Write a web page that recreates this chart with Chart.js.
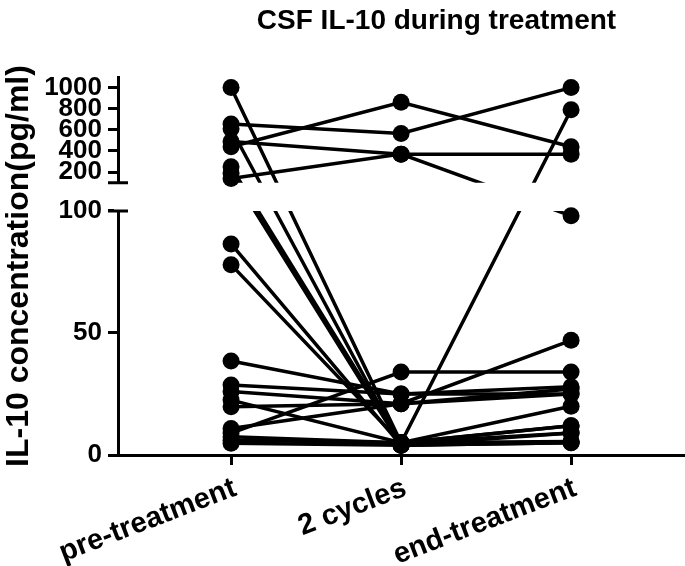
<!DOCTYPE html>
<html>
<head>
<meta charset="utf-8">
<script src="https://cdn.jsdelivr.net/npm/chart.js@4/dist/chart.umd.min.js"></script>
<style>
  html, body { margin: 0; padding: 0; background: #fff; }
  #wrap { width: 685px; height: 566px; }
</style>
</head>
<body>
<div id="wrap"><canvas id="c" width="685" height="566"></canvas></div>
<script>
// ---- data ----
const categories = ['pre-treatment', '2 cycles', 'end-treatment'];
const preTreatment = [1000, 655, 610, 490, 440, 250, 190, 140, 86.5, 78, 38.5, 28.7, 26, 22.5, 19.8, 10.9, 9, 7.5, 6, 4.8];
const twoCycles    = [5, 565, 4, 370, 860, 5, 4, 370, 4, 5, 25, 25, 21, 5, 21, 21, 34, 5, 5, 4];
const endTreatment = [790, 1000, 9, 370, 440, 12, 5, 98, 5, 9, 28, 25, 27, 20, 25, 47, 34, 5.5, 12, 5.5];
const lowerTicks = [0, 50, 100];
const upperTicks = [200, 400, 600, 800, 1000];
const chartTitle = 'CSF IL-10 during treatment';
const yTitle = 'IL-10 concentration(pg/ml)';

// ---- broken axis: lower segment 0..100, upper segment 100..1100 ----
const LOWER_MAX = 100, UPPER_MIN = 100, UPPER_MAX = 1100;
const GAP = 11.6;          // blank band between the two segments (lower-segment units)
const UPPER_SPAN = 43.3;   // height of upper segment (lower-segment units)
function virt(v) {
  if (v <= LOWER_MAX) return v;
  return LOWER_MAX + GAP + (v - UPPER_MIN) / (UPPER_MAX - UPPER_MIN) * UPPER_SPAN;
}
const Y_MAX = LOWER_MAX + GAP + UPPER_SPAN;
const yTickValues = lowerTicks.concat(upperTicks);

const FONT = "'Liberation Sans', Arial, Helvetica, sans-serif";

// ---- datasets: one line + one set of markers per subject ----
const datasets = [];
preTreatment.forEach((p, i) => {
  const pts = [p, twoCycles[i], endTreatment[i]].map((v, k) => ({ x: k, y: virt(v) }));
  datasets.push({ data: pts, isLine: true, showLine: true, borderColor: '#000', borderWidth: 3.5,
    pointRadius: 0, pointHoverRadius: 0, fill: false, tension: 0, order: 2 });
});
preTreatment.forEach((p, i) => {
  const pts = [p, twoCycles[i], endTreatment[i]].map((v, k) => ({ x: k, y: virt(v) }));
  datasets.push({ data: pts, showLine: false, pointRadius: 8.5, pointHoverRadius: 8.5,
    pointBackgroundColor: '#000', pointBorderWidth: 0, borderColor: '#000', order: 1 });
});

function gapPixels(chart) {
  const y = chart.scales.y;
  return { top: y.getPixelForValue(LOWER_MAX + GAP), bottom: y.getPixelForValue(LOWER_MAX) };
}

const brokenAxisPlugin = {
  id: 'brokenAxis',
  beforeDatasetsDraw(chart) {
    const ctx = chart.ctx, a = chart.chartArea, g = gapPixels(chart);
    ctx.save();
    ctx.fillStyle = '#fff';
    ctx.fillRect(a.left - 4, g.top, 8, g.bottom - g.top);
    ctx.strokeStyle = '#000';
    ctx.lineWidth = 3;
    ctx.beginPath();
    ctx.moveTo(a.left - 10, g.top); ctx.lineTo(a.left + 10, g.top);
    ctx.moveTo(a.left - 10, g.bottom); ctx.lineTo(a.left + 10, g.bottom);
    ctx.stroke();
    ctx.restore();
  },
  beforeDatasetDraw(chart, args) {
    const ds = chart.data.datasets[args.index];
    if (!ds.isLine) return;
    const ctx = chart.ctx, g = gapPixels(chart);
    ctx.save();
    ctx.beginPath();
    ctx.rect(0, 0, chart.width, g.top);
    ctx.rect(0, g.bottom, chart.width, chart.height - g.bottom);
    ctx.clip();
  },
  afterDatasetDraw(chart, args) {
    const ds = chart.data.datasets[args.index];
    if (!ds.isLine) return;
    chart.ctx.restore();
  },
  afterDraw(chart) {
    const ctx = chart.ctx, a = chart.chartArea;
    ctx.save();
    ctx.fillStyle = '#000';
    ctx.font = 'bold 28px ' + FONT;
    ctx.textAlign = 'center';
    ctx.textBaseline = 'alphabetic';
    ctx.fillText(chartTitle, (a.left + a.right) / 2 + 35, 29);
    ctx.restore();
  }
};

new Chart(document.getElementById('c'), {
  type: 'line',
  data: { datasets },
  options: {
    responsive: false, animation: false, devicePixelRatio: 1,
    layout: { autoPadding: false, padding: { top: 77, right: 0, bottom: 0, left: 0 } },
    plugins: { legend: { display: false }, tooltip: { enabled: false }, title: { display: false } },
    events: [],
    scales: {
      x: {
        type: 'linear', min: -0.665, max: 2.67,
        afterBuildTicks(scale) { scale.ticks = categories.map((c, i) => ({ value: i })); },
        afterFit(scale) { scale.height = 111; scale.paddingLeft = 0; scale.paddingRight = 0; },
        ticks: { autoSkip: false, minRotation: 21, maxRotation: 21, padding: 6, labelOffset: 4,
          color: '#000', font: { family: FONT, size: 29, weight: 'bold' }, callback: (v) => categories[v] },
        grid: { drawOnChartArea: false, drawTicks: true, tickLength: 10, tickWidth: 3, tickColor: '#000' },
        border: { display: true, color: '#000', width: 3 }
      },
      y: {
        type: 'linear', min: 0, max: Y_MAX,
        afterBuildTicks(scale) { scale.ticks = yTickValues.map(v => ({ value: virt(v) })); },
        afterFit(scale) { scale.width = 118; scale.paddingTop = 0; scale.paddingBottom = 0; },
        ticks: { autoSkip: false, padding: 6, color: '#000',
          font: { family: FONT, size: 26, weight: 'bold' }, callback: (v, i) => String(yTickValues[i]) },
        grid: { drawOnChartArea: false, drawTicks: true, tickLength: 10, tickWidth: 3, tickColor: '#000' },
        border: { display: true, color: '#000', width: 3 },
        title: { display: true, text: yTitle, color: '#000', padding: { top: 0, bottom: 0 },
          font: { family: FONT, size: 32, weight: 'bold' } }
      }
    }
  },
  plugins: [brokenAxisPlugin]
});
</script>
</body>
</html>
